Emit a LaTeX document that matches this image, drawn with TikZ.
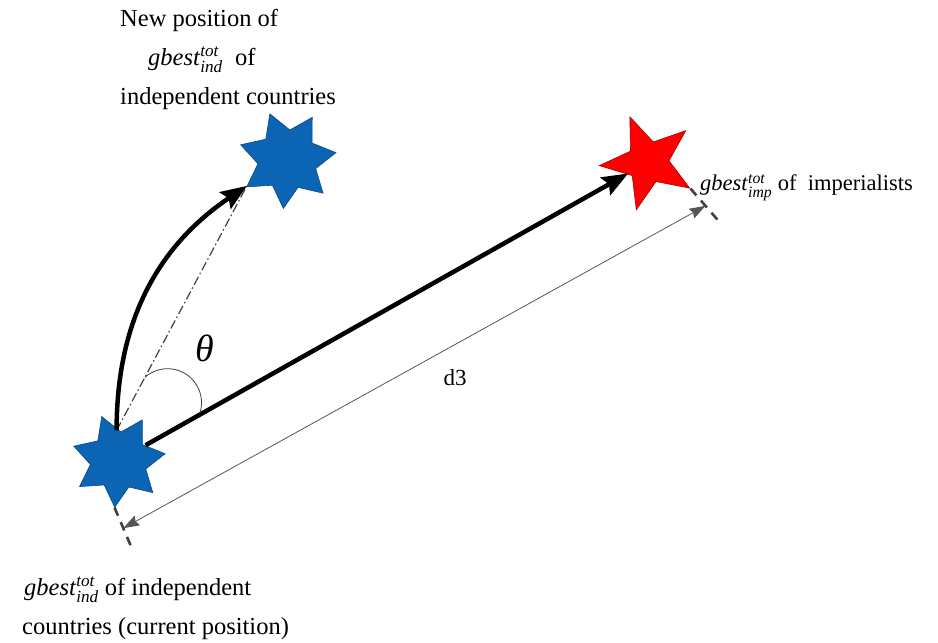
\documentclass[tikz,border=0pt]{standalone}
\usepackage{amsmath}
\usepackage{fontspec}
\setmainfont{Liberation Serif}
\usetikzlibrary{arrows.meta,calc,shapes.geometric}
\definecolor{starblue}{HTML}{0B64B4}
\definecolor{stardark}{HTML}{0A4A85}
\definecolor{starred}{HTML}{FF0000}
\definecolor{darkred}{HTML}{A80000}
\definecolor{dimgray}{HTML}{555555}
\definecolor{extgray}{HTML}{404040}
\newcommand{\gbest}[1]{\textit{gbest}$^{\textit{tot}}_{\textit{#1}}$}
\tikzset{
  txt/.style={font=\fontsize{24.5}{39}\selectfont,inner sep=0pt,align=left},
  bluestar/.style={star,star points=7,star point ratio=1.65,shape border rotate=21,minimum size=94pt,inner sep=0pt,fill=starblue,draw=stardark,line width=0.6pt},
  redstar/.style={star,star points=5,star point ratio=2.35,shape border rotate=22,minimum size=98pt,inner sep=0pt,fill=starred,draw=darkred,line width=0.6pt},
  bigarr/.style={-{Stealth[length=26pt,width=20pt,inset=4pt]},line width=4.5pt},
  dashdot/.style={draw=extgray,line width=1.2pt,dash pattern=on 9pt off 3pt on 1.5pt off 3pt},
  anglearc/.style={draw=extgray,line width=0.8pt},
  dimline/.style={{Stealth[length=16pt,width=11pt,inset=2pt]}-{Stealth[length=16pt,width=11pt,inset=2pt]},draw=dimgray,line width=0.8pt},
  extline/.style={draw=extgray,line width=2.6pt,dash pattern=on 9pt off 7pt}
}
\begin{document}
\begin{tikzpicture}[x=1pt,y=1pt]
\path[use as bounding box] (0,0) rectangle (938,643);
% stars
\node[bluestar] (starCur) at (118.6,182.6) {};
\node[bluestar,minimum size=98pt] (starNew) at (287.4,483.4) {};
\node[redstar] (starImp) at (648.2,480.8) {};
% helper points
\coordinate (o) at ($(starCur.center)+(-2,30)$);
\coordinate (tipNew) at (starNew.213.9);
\coordinate (arcStart) at ($(o)!60pt!(tipNew)$);
\coordinate (extA) at ($(starCur.265.3)+(-67:48)$);
\coordinate (extB) at ($(starImp.-32)+(-49:44)$);
\coordinate (dimA) at ($(starCur.265.3)!0.47!(extA)$);
\coordinate (dimB) at ($(starImp.-32)!0.52!(extB)$);
% connectors
\draw[dashdot] (o) -- (tipNew);
\draw[bigarr] (o) to[out=90,in=214] (tipNew);
\draw[bigarr,shorten <=31pt,shorten >=23pt] (starCur.center) -- (starImp.center);
\draw[anglearc] (arcStart) arc[start angle=132,end angle=-17,radius=34];
% dimension
\draw[extline] (starCur.265.3) -- (extA);
\draw[extline] (starImp.-32) -- (extB);
\draw[dimline] (dimA) -- (dimB);
% labels
\node[font=\fontsize{38}{38}\selectfont\itshape] (theta) at (205,295) {θ};
\node[font=\fontsize{23}{23}\selectfont] (dlen) at (455,265) {d3};
\node[txt,anchor=north west] (newTxt) at (120,634) {New position of\\\hspace{28pt}\gbest{ind}~ of\\independent countries};
\node[txt,font=\fontsize{22.5}{30}\selectfont,anchor=base west] (impTxt) at (700,452) {\gbest{imp} of~ imperialists};
\node[txt,anchor=south west] (curTxt) at (22,3) {\hspace{2pt}\gbest{ind} of independent\\countries (current position)};
\end{tikzpicture}
\end{document}
